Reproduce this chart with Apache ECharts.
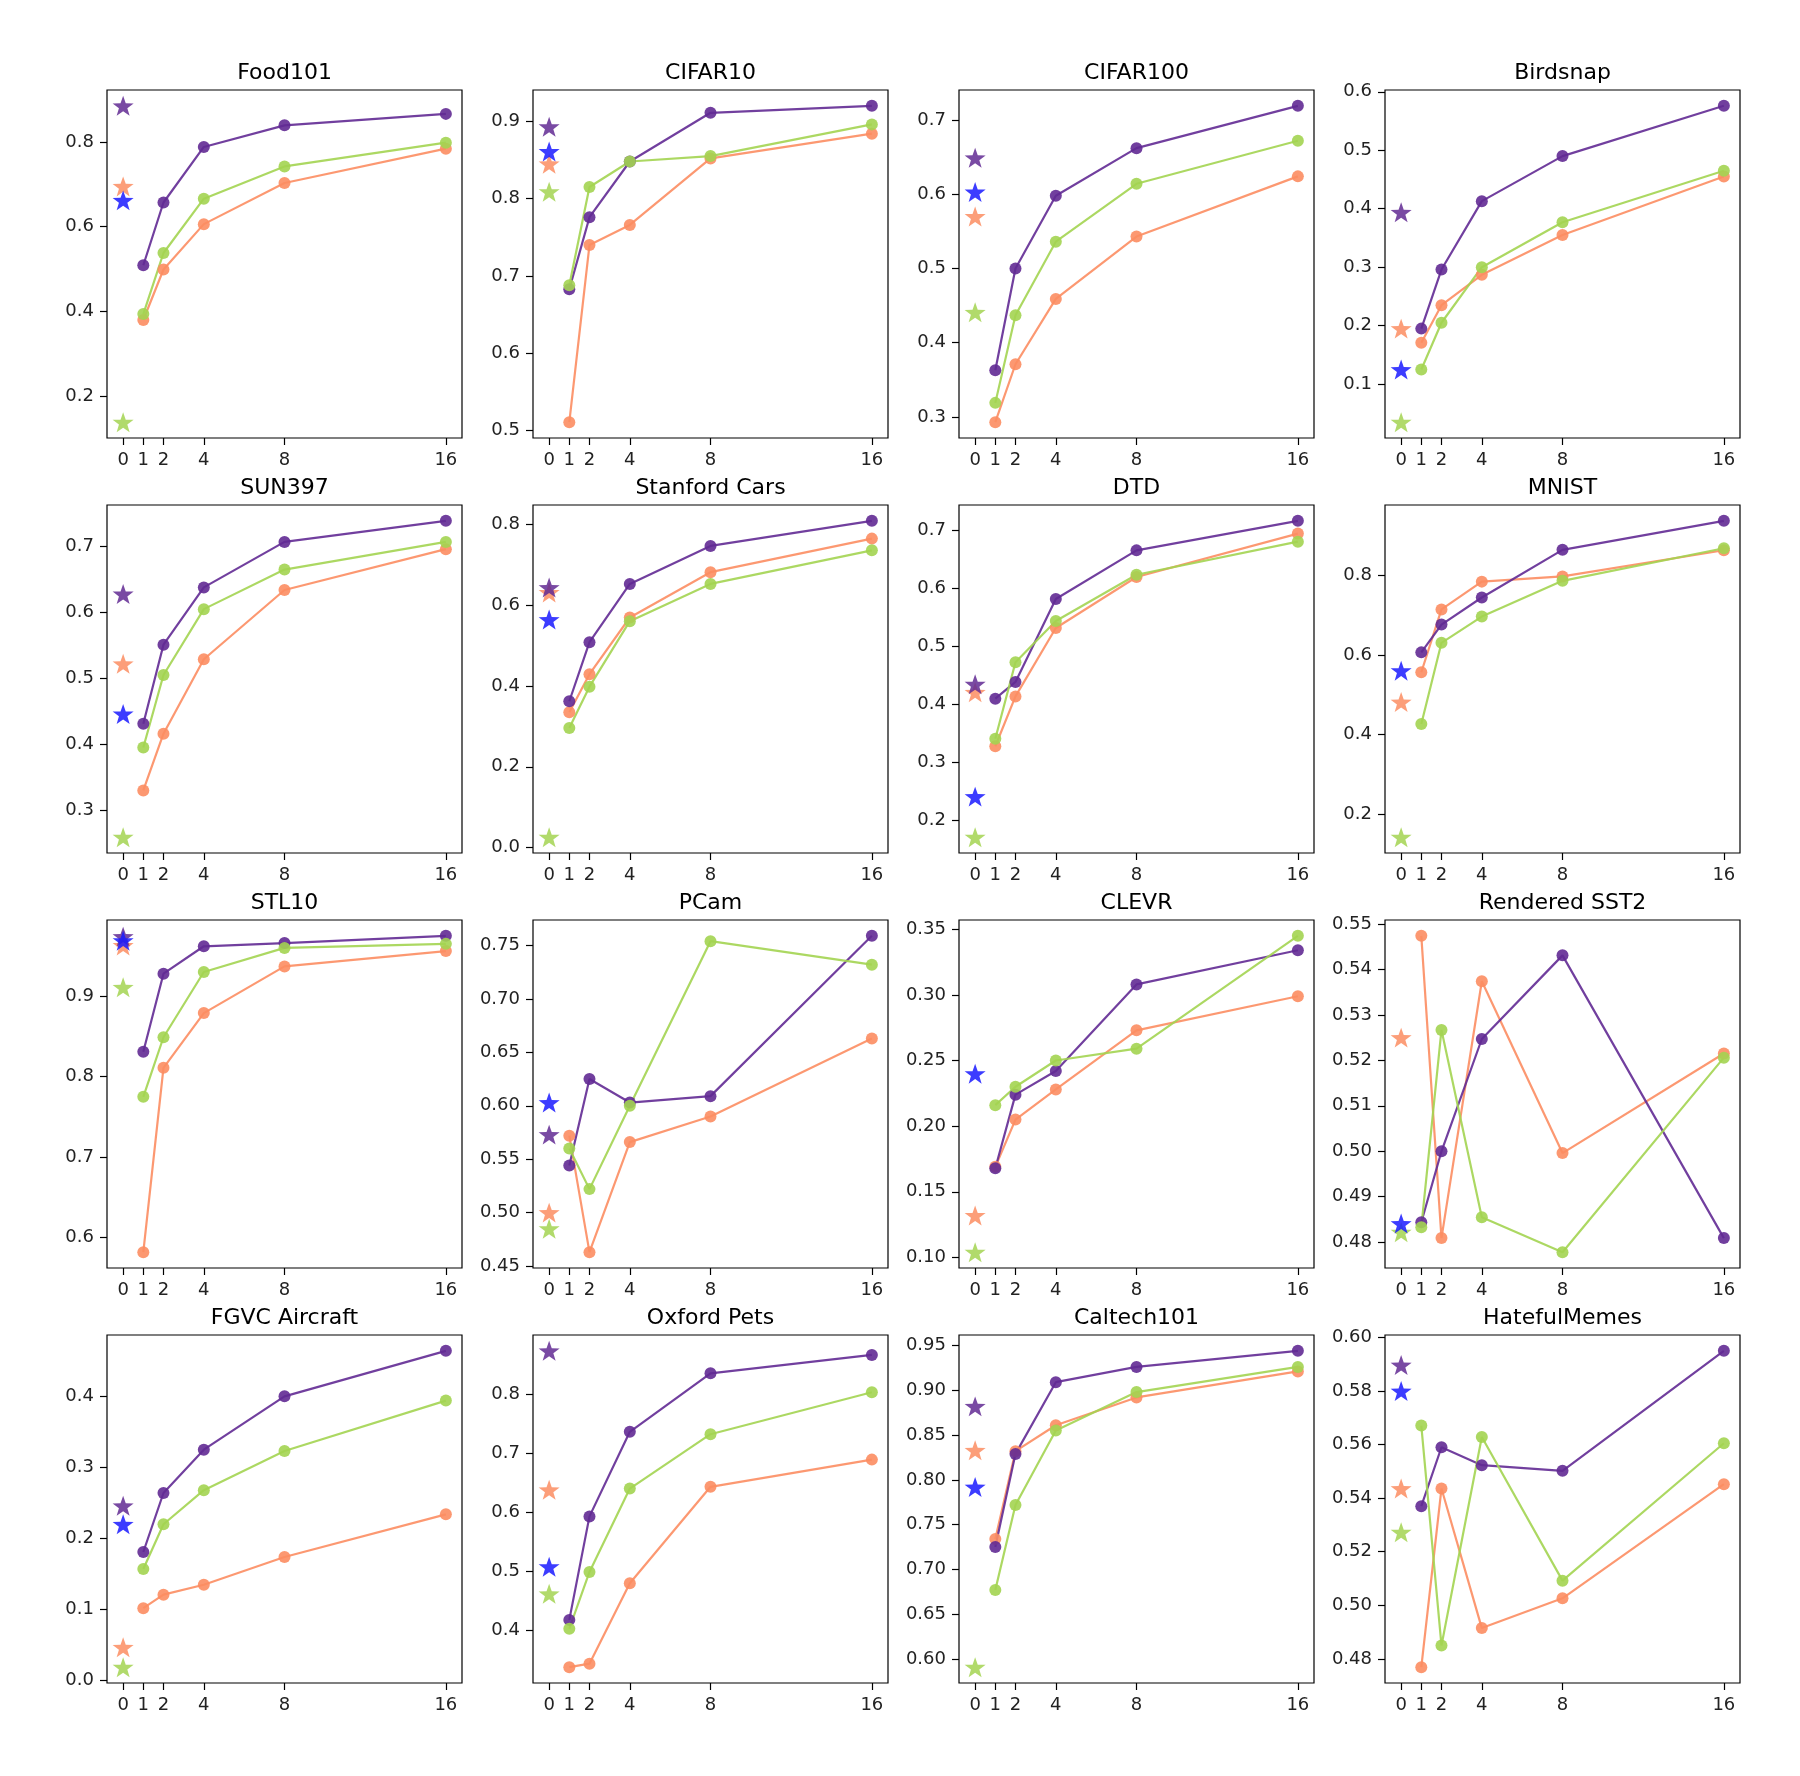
<!DOCTYPE html>
<html>
<head>
<meta charset="utf-8">
<script src="https://cdn.jsdelivr.net/npm/echarts@6/dist/echarts.min.js"></script>
<style>
html,body{margin:0;padding:0;background:#fff;}
#chart{width:1800px;height:1776px;}
</style>
</head>
<body>
<div id="chart"></div>
<script>
const TITLES = ['Food101','CIFAR10','CIFAR100','Birdsnap','SUN397','Stanford Cars','DTD','MNIST','STL10','PCam','CLEVR','Rendered SST2','FGVC Aircraft','Oxford Pets','Caltech101','HatefulMemes'];
const SHOTS = [1, 2, 4, 8, 16];
const X_TICKS = ['0','1','2','4','8','16'];

const PURPLE = [
  [0.509,0.657,0.788,0.839,0.866],
  [0.683,0.776,0.848,0.911,0.920],
  [0.363,0.500,0.598,0.662,0.719],
  [0.195,0.296,0.413,0.490,0.576],
  [0.431,0.551,0.638,0.707,0.739],
  [0.362,0.508,0.652,0.746,0.808],
  [0.410,0.439,0.582,0.666,0.717],
  [0.607,0.677,0.745,0.865,0.938],
  [0.831,0.928,0.962,0.966,0.975],
  [0.544,0.625,0.603,0.609,0.759],
  [0.168,0.224,0.242,0.308,0.334],
  [0.4844,0.500,0.5247,0.5431,0.4809],
  [0.181,0.264,0.325,0.400,0.464],
  [0.418,0.593,0.736,0.835,0.866],
  [0.725,0.829,0.909,0.926,0.944],
  [0.537,0.559,0.5523,0.5502,0.595]
];
const ORANGE = [
  [0.380,0.499,0.606,0.703,0.784],
  [0.511,0.740,0.766,0.852,0.884],
  [0.293,0.371,0.459,0.543,0.624],
  [0.171,0.235,0.287,0.355,0.455],
  [0.330,0.416,0.529,0.634,0.696],
  [0.335,0.429,0.569,0.681,0.764],
  [0.328,0.414,0.532,0.620,0.695],
  [0.557,0.715,0.785,0.798,0.864],
  [0.582,0.811,0.879,0.937,0.956],
  [0.572,0.463,0.566,0.590,0.663],
  [0.169,0.205,0.228,0.273,0.299],
  [0.5474,0.4809,0.5374,0.4996,0.5215],
  [0.102,0.121,0.135,0.174,0.234],
  [0.338,0.344,0.480,0.643,0.689],
  [0.734,0.832,0.861,0.892,0.921],
  [0.4769,0.5436,0.4915,0.5026,0.5452]
];
const GREEN = [
  [0.394,0.538,0.666,0.742,0.798],
  [0.688,0.815,0.848,0.855,0.896],
  [0.319,0.437,0.536,0.614,0.672],
  [0.125,0.205,0.300,0.377,0.465],
  [0.395,0.505,0.605,0.665,0.707],
  [0.296,0.398,0.560,0.652,0.735],
  [0.341,0.473,0.544,0.624,0.681],
  [0.427,0.631,0.697,0.787,0.869],
  [0.775,0.849,0.930,0.960,0.965],
  [0.560,0.522,0.600,0.754,0.732],
  [0.216,0.230,0.250,0.259,0.345],
  [0.4833,0.5267,0.4855,0.4778,0.5206],
  [0.157,0.220,0.268,0.323,0.394],
  [0.403,0.499,0.640,0.732,0.803],
  [0.677,0.772,0.855,0.898,0.926],
  [0.5671,0.485,0.5628,0.5092,0.5605]
];
const STAR_PURPLE = [0.885,0.893,0.649,0.394,0.628,0.643,0.435,null,0.974,0.573,null,null,0.246,0.873,0.882,0.5897];
const STAR_ORANGE = [0.695,0.845,0.570,0.195,0.522,0.631,0.421,0.482,0.963,0.500,0.132,0.525,0.047,0.638,0.833,0.5436];
const STAR_GREEN  = [0.139,0.809,0.441,0.035,0.259,0.026,0.171,0.142,0.911,0.485,0.104,0.4822,0.019,0.462,0.591,0.5273];
const STAR_BLUE   = [0.662,0.861,0.603,0.125,0.446,0.564,0.241,0.561,0.969,0.603,0.240,0.4841,0.220,0.508,0.792,0.580];

const Y_TICKS = [
  ['0.2','0.4','0.6','0.8'],
  ['0.5','0.6','0.7','0.8','0.9'],
  ['0.3','0.4','0.5','0.6','0.7'],
  ['0.1','0.2','0.3','0.4','0.5','0.6'],
  ['0.3','0.4','0.5','0.6','0.7'],
  ['0.0','0.2','0.4','0.6','0.8'],
  ['0.2','0.3','0.4','0.5','0.6','0.7'],
  ['0.2','0.4','0.6','0.8'],
  ['0.6','0.7','0.8','0.9'],
  ['0.45','0.50','0.55','0.60','0.65','0.70','0.75'],
  ['0.10','0.15','0.20','0.25','0.30','0.35'],
  ['0.48','0.49','0.50','0.51','0.52','0.53','0.54','0.55'],
  ['0.0','0.1','0.2','0.3','0.4'],
  ['0.4','0.5','0.6','0.7','0.8','0.9'],
  ['0.60','0.65','0.70','0.75','0.80','0.85','0.90','0.95'],
  ['0.48','0.50','0.52','0.54','0.56','0.58','0.60']
];

const C_PURPLE = '#622a93';
const C_ORANGE = '#fc8d62';
const C_GREEN = '#a3d451';
const C_BLUE = '#1a1aff';
const STAR = 'path://M0,-10 L2.35,-3.24 L9.51,-3.09 L3.8,1.24 L5.88,8.09 L0,4 L-5.88,8.09 L-3.8,1.24 L-9.51,-3.09 L-2.35,-3.24 Z';

const GRID_LEFT0 = 107, GRID_DX = 426, GRID_TOP0 = 90, GRID_DY = 415, GRID_W = 355, GRID_H = 348;
const FONT = 'DejaVu Sans';

const grids = [], xAxes = [], yAxes = [], series = [], titles = [];

TITLES.forEach((name, i) => {
  const col = i % 4, row = Math.floor(i / 4);
  const left = GRID_LEFT0 + col * GRID_DX;
  const top = GRID_TOP0 + row * GRID_DY;
  grids.push({left: left, top: top, width: GRID_W, height: GRID_H, show: true, borderColor: '#000', borderWidth: 1.2, backgroundColor: 'transparent'});
  titles.push({text: name, left: left + GRID_W / 2, top: top - 28, textAlign: 'center', padding: 0,
    textStyle: {fontFamily: FONT, fontSize: 22, fontWeight: 'normal', color: '#000'}});

  const all = [].concat(PURPLE[i], ORANGE[i], GREEN[i], [STAR_PURPLE[i], STAR_ORANGE[i], STAR_GREEN[i], STAR_BLUE[i]]).filter(v => v !== null);
  const dmin = Math.min.apply(null, all), dmax = Math.max.apply(null, all);
  const span = dmax - dmin;
  const yTickVals = Y_TICKS[i].map(Number);
  const dec = (Y_TICKS[i][0].split('.')[1] || '').length;

  xAxes.push({type: 'value', gridIndex: i, min: -0.8, max: 16.8, position: 'bottom',
    axisLine: {show: false, onZero: false}, splitLine: {show: false},
    axisTick: {show: true, inside: false, length: 7, lineStyle: {color: '#000', width: 1.2}, customValues: X_TICKS.map(Number)},
    axisLabel: {show: true, margin: 13, fontFamily: FONT, fontSize: 18, color: '#222', customValues: X_TICKS.map(Number),
      formatter: v => String(Math.round(v))}
  });
  yAxes.push({type: 'value', gridIndex: i, min: dmin - 0.05 * span, max: dmax + 0.05 * span, position: 'left',
    axisLine: {show: false, onZero: false}, splitLine: {show: false},
    axisTick: {show: true, inside: false, length: 7, lineStyle: {color: '#000', width: 1.2}, customValues: yTickVals},
    axisLabel: {show: true, margin: 13, fontFamily: FONT, fontSize: 18, color: '#222', customValues: yTickVals,
      formatter: v => Number(v).toFixed(dec)}
  });

  const lineSeries = (vals, color) => ({
    type: 'line', xAxisIndex: i, yAxisIndex: i,
    data: SHOTS.map((s, k) => [s, vals[k]]),
    symbol: 'circle', symbolSize: 12,
    lineStyle: {color: color, width: 2.2, opacity: 0.9},
    itemStyle: {color: color, opacity: 0.9},
    emphasis: {disabled: true}, z: 3
  });
  series.push(lineSeries(ORANGE[i], C_ORANGE));
  series.push(lineSeries(PURPLE[i], C_PURPLE));
  series.push(lineSeries(GREEN[i], C_GREEN));

  const starSeries = (v, color, z) => ({
    type: 'scatter', xAxisIndex: i, yAxisIndex: i,
    data: v === null ? [] : [[0, v]],
    symbol: STAR, symbolSize: 21, symbolKeepAspect: true,
    itemStyle: {color: color, opacity: 0.85},
    emphasis: {disabled: true}, z: z
  });
  series.push(starSeries(STAR_ORANGE[i], C_ORANGE, 4));
  series.push(starSeries(STAR_GREEN[i], C_GREEN, 4));
  series.push(starSeries(STAR_PURPLE[i], C_PURPLE, 5));
  series.push(starSeries(STAR_BLUE[i], C_BLUE, 6));
});

const chart = echarts.init(document.getElementById('chart'), null, {renderer: 'canvas'});
chart.setOption({
  animation: false,
  backgroundColor: '#fff',
  title: titles,
  grid: grids,
  xAxis: xAxes,
  yAxis: yAxes,
  series: series
});
</script>
</body>
</html>
